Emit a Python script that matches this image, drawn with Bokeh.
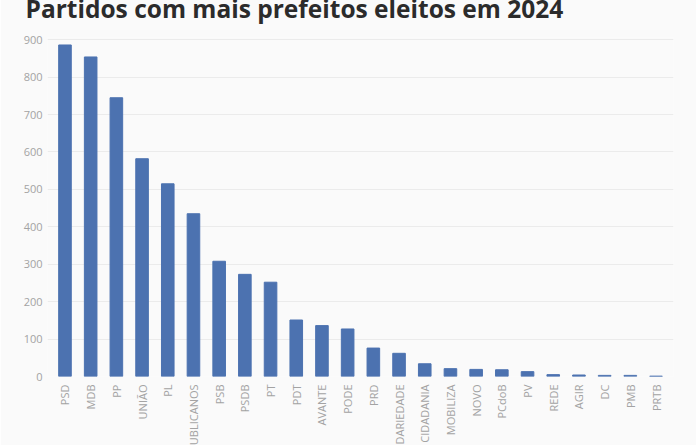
import math
from bokeh.plotting import figure
from bokeh.models import FactorRange, Range1d
from bokeh.embed import file_html
from bokeh.resources import INLINE

parties = ["PSD", "MDB", "PP", "UNIÃO", "PL", "REPUBLICANOS", "PSB", "PSDB", "PT", "PDT",
           "AVANTE", "PODE", "PRD", "SOLIDARIEDADE", "CIDADANIA", "MOBILIZA", "NOVO", "PCdoB",
           "PV", "REDE", "AGIR", "DC", "PMB", "PRTB"]
mayors = [886, 854, 745, 582, 515, 435, 308, 273, 252, 151,
          136, 127, 76, 62, 34, 21, 19, 18,
          13, 5, 4, 3, 3, 1]
y_ticks = [0, 100, 200, 300, 400, 500, 600, 700, 800, 900]
title_text = "Partidos com mais prefeitos eleitos em 2024"

BG = "#fafafa"
FONT = "Open Sans"
SHIFT = 26

p = figure(
    x_range=FactorRange(factors=parties, range_padding=0.18, range_padding_units="absolute"),
    y_range=Range1d(0, 906),
    frame_width=626, frame_height=339,
    output_backend="svg", toolbar_location=None,
    min_border_left=47, min_border_right=23, min_border_top=37 + SHIFT, min_border_bottom=104,
    background_fill_color=BG, border_fill_color=BG,
    outline_line_color=None,
    title=title_text,
)
p.margin = (-SHIFT, 0, -35 - SHIFT, 0)

p.title.align = "left"
p.title.offset = -22
p.title.standoff = 26
p.title.text_font = FONT
p.title.text_font_style = "bold"
p.title.text_font_size = "24.5px"
p.title.text_color = "#2b2b2b"

p.vbar(x=parties, top=mayors, width=0.49, color="#4c72b0")

p.xgrid.grid_line_color = None
p.ygrid.grid_line_color = "#ebebeb"
p.ygrid.grid_line_width = 1
p.yaxis.ticker = y_ticks

for ax in (p.xaxis[0], p.yaxis[0]):
    ax.axis_line_color = None
    ax.major_tick_line_color = None
    ax.minor_tick_line_color = None
    ax.major_tick_out = 0
    ax.major_tick_in = 0
    ax.major_label_text_font = FONT
    ax.major_label_text_font_size = "11px"
    ax.major_label_text_color = "#a3a3a3"

p.yaxis.major_label_standoff = 5
p.xaxis.major_label_standoff = 8
p.xaxis.major_label_orientation = math.pi / 2

open("out.html", "w").write(file_html(p, INLINE))
